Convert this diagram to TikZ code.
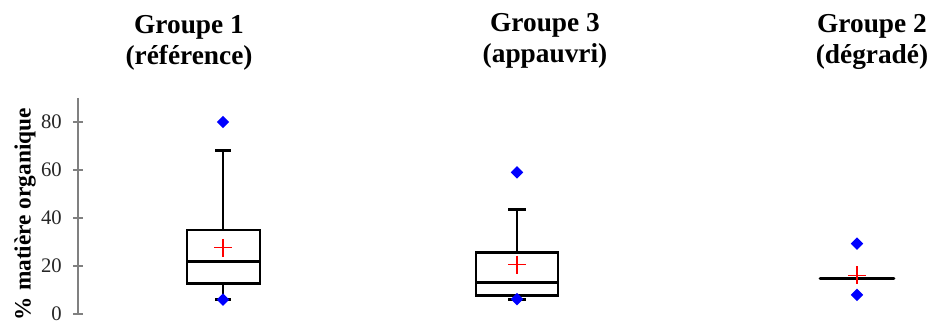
\documentclass[tikz,border=0pt]{standalone}
\usepackage{fontspec}
\setmainfont{Liberation Serif}
\usetikzlibrary{shapes.geometric,calc}
\begin{document}
\begin{tikzpicture}[x=0.75pt,y=-0.75pt,
  title/.style={font=\fontsize{20.5}{23}\selectfont\bfseries, align=center, inner sep=0pt},
  ticklbl/.style={font=\fontsize{15.5}{17}\selectfont, anchor=east, inner sep=0pt, text=black!85},
  axisline/.style={draw=gray, line width=1.5pt},
  boxline/.style={draw=black, line width=2.2pt},
  whisk/.style={draw=black, line width=2.2pt},
  outlier/.style={diamond, fill=blue, draw=none, inner sep=0pt, minimum size=9.5pt},
  meanmark/.style={draw=red, line width=1.1pt},
  ylbl/.style={font=\fontsize{17.5}{19}\selectfont\bfseries, rotate=90, inner sep=0pt}
]
\useasboundingbox (0,0) rectangle (933,323);
% titles
\node[title] (t1) at (189,43) {Groupe 1\\(référence)};
\node[title] (t3) at (545,41) {Groupe 3\\(appauvri)};
\node[title] (t2) at (872,42) {Groupe 2\\(dégradé)};
% y axis
\node[ylbl] (yl) at (25,214) {\% matière organique};
\coordinate (atop) at (78,98);
\coordinate (abot) at (78,314);
\draw[axisline] (atop) -- (abot);
\foreach \v/\lab in {0/0,20/20,40/40,60/60,80/80}{
  \coordinate (tk\v) at (78,{314-2.4*\v});
  \draw[axisline] (tk\v) ++(-5,0) -- ++(10,0);
  \node[ticklbl] (tl\v) at ($(tk\v)+(-16,0)$) {\lab};
}
% Groupe 1
\coordinate (g1wt) at (223,{314-2.4*68});
\coordinate (g1q3) at (223,{314-2.4*35});
\coordinate (g1q1) at (223,{314-2.4*12.9});
\coordinate (g1wb) at (223,{314-2.4*6});
\draw[whisk] (g1wt) -- (g1q3);
\draw[whisk] (g1q1) -- (g1wb);
\draw[whisk] (g1wt) ++(-8,0) -- ++(16,0);
\draw[whisk] (g1wb) ++(-8,0) -- ++(16,0);
\draw[boxline] (187,{314-2.4*12.9}) rectangle (260,{314-2.4*35});
\draw[boxline] (187,{314-2.4*22}) -- (260,{314-2.4*22});
\node[outlier] (g1o1) at (223,{314-2.4*80}) {};
\node[outlier] (g1o2) at (223,{314-2.4*6}) {};
\coordinate (g1m) at (223,{314-2.4*27.6});
\draw[meanmark] (g1m) ++(-9,0) -- ++(18,0);
\draw[meanmark] (g1m) ++(0,-9) -- ++(0,18);
% Groupe 3
\coordinate (g3wt) at (517,{314-2.4*43.7});
\coordinate (g3q3) at (517,{314-2.4*25.7});
\coordinate (g3q1) at (517,{314-2.4*7.9});
\coordinate (g3wb) at (517,{314-2.4*6.2});
\draw[whisk] (g3wt) -- (g3q3);
\draw[whisk] (g3q1) -- (g3wb);
\draw[whisk] (g3wt) ++(-9,0) -- ++(18,0);
\draw[whisk] (g3wb) ++(-9,0) -- ++(18,0);
\draw[boxline] (476,{314-2.4*7.9}) rectangle (558,{314-2.4*25.7});
\draw[boxline] (476,{314-2.4*13.3}) -- (558,{314-2.4*13.3});
\node[outlier] (g3o1) at (517,{314-2.4*59}) {};
\node[outlier] (g3o2) at (517,{314-2.4*6.2}) {};
\coordinate (g3m) at (517,{314-2.4*20.6});
\draw[meanmark] (g3m) ++(-9,0) -- ++(18,0);
\draw[meanmark] (g3m) ++(0,-9) -- ++(0,18);
% Groupe 2
\coordinate (g2med) at (857,{314-2.4*14.7});
\draw[boxline, line cap=round] (g2med) ++(-37,0) -- ++(74,0);
\node[outlier] (g2o1) at (857,{314-2.4*29.3}) {};
\node[outlier] (g2o2) at (857,{314-2.4*8}) {};
\coordinate (g2m) at (857,{314-2.4*16.1});
\draw[meanmark] (g2m) ++(-9,0) -- ++(18,0);
\draw[meanmark] (g2m) ++(0,-9) -- ++(0,18);
\end{tikzpicture}
\end{document}
